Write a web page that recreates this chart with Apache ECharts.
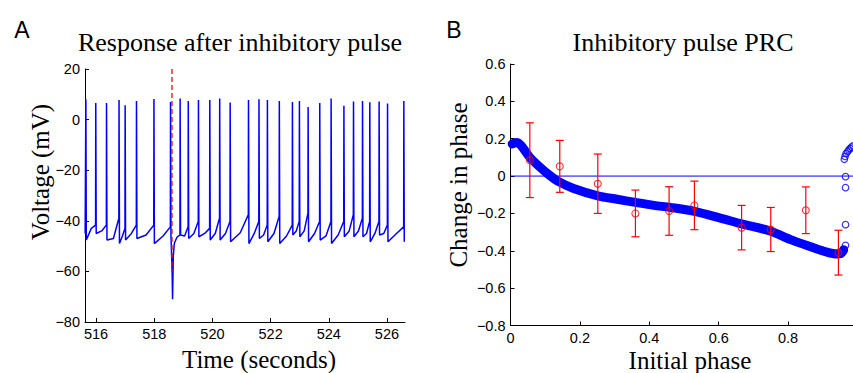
<!DOCTYPE html>
<html><head><meta charset="utf-8">
<script src="https://cdn.jsdelivr.net/npm/echarts@6/dist/echarts.min.js"></script>
<style>html,body{margin:0;padding:0;background:#fff}#c{width:853px;height:373px}</style>
</head><body><div id="c"></div>
<script>
// ---------- Panel A: voltage trace ----------
const spikeTimes = [515.65, 515.99, 516.36, 516.79, 517.00, 517.39, 517.99, 518.56, 518.89, 519.17,
  519.52, 519.91, 520.25, 520.61, 521.24, 521.60, 521.89, 522.30, 522.75, 522.99,
  523.29, 523.69, 524.08, 524.52, 524.85, 525.16, 525.41, 525.73, 526.02, 526.58];
const spikePeaks = [8.0, 6.6, 6.6, 7.7, 5.7, 7.4, 8.1, 7.0, 8.3, 7.4,
  7.7, 7.7, 8.3, 6.8, 7.7, 8.0, 7.7, 7.4, 7.0, 7.4,
  5.0, 6.6, 8.3, 5.5, 7.2, 7.4, 6.9, 7.2, 6.4, 7.4];
const preSpikeV = [-45.0, -41.7, -41.7, -39.0, -43.0, -41.7, -41.7, -42.4, -45.6, -42.4,
  -40.3, -43.0, -39.0, -40.3, -37.6, -40.3, -41.7, -38.3, -41.7, -40.3,
  -37.0, -40.3, -40.3, -40.3, -37.6, -39.0, -40.3, -40.3, -41.7, -42.4];
const troughV = [-47.6, -45.0, -47.6, -49.0, -47.6, -47.0, -49.0, -46.0, -45.6, -47.0,
  -46.3, -47.6, -47.6, -48.3, -49.0, -47.0, -48.3, -49.0, -45.6, -46.3,
  -48.3, -47.6, -49.0, -46.3, -46.3, -46.3, -48.3, -45.6, -48.3, -48.3];
const midV = [-43.0, -44.0, -47.0, -46.0, -45.0, -45.6, -46.0, -46.5, -46.0, -45.0,
  -45.0, -45.0, -45.0, -44.7, -45.0, -45.6, -45.0, -46.0, -44.0, -44.0,
  -45.0, -46.0, -45.6, -44.0, -44.0, -45.0, -45.0, -45.0, -45.0];
const pulseTime = 518.61;
const pulseDip = [[518.615, -60], [518.63, -71], [518.655, -54], [518.69, -49], [518.78, -46.5]];
const traceStart = [515.625, -45.0];
const pulseLine = [20, -60];
const xTicksA = [516, 518, 520, 522, 524, 526];

// ---------- Panel B: phase response curve ----------
const prcPhase = [0.005, 0.017, 0.03, 0.0557, 0.0836, 0.112, 0.139, 0.18, 0.2516, 0.307, 0.36, 0.413,
  0.461, 0.53, 0.605, 0.666, 0.75, 0.807, 0.865, 0.912, 0.941, 0.952, 0.96];
const prcValue = [0.172, 0.18, 0.165, 0.10, 0.05, 0.005, -0.03, -0.065, -0.106, -0.124, -0.141, -0.157,
  -0.168, -0.189, -0.225, -0.256, -0.295, -0.34, -0.378, -0.407, -0.417, -0.415, -0.395];
const extraPhase = [0.9655, 0.9655, 0.9655, 0.9655, 0.962, 0.964, 0.967, 0.971, 0.975, 0.979, 0.983, 0.987];
const extraValue = [-0.003, -0.062, -0.26, -0.371, 0.09, 0.105, 0.12, 0.13, 0.14, 0.148, 0.155, 0.162];
const expPhase = [0.0557, 0.142, 0.2516, 0.36, 0.457, 0.53, 0.666, 0.75, 0.851, 0.945];
const expMean = [0.085, 0.052, -0.041, -0.200, -0.187, -0.157, -0.276, -0.286, -0.183, -0.410];
const expErr = [0.200, 0.139, 0.159, 0.125, 0.130, 0.130, 0.119, 0.118, 0.125, 0.120];
const xTicksB = [0, 0.2, 0.4, 0.6, 0.8];

// ---------- build tables ----------
const trace = [traceStart];
for (let i = 0; i < spikeTimes.length; i++) {
  const t = spikeTimes[i];
  trace.push([t - 0.006, preSpikeV[i]]);
  trace.push([t, spikePeaks[i]]);
  trace.push([t + 0.015, troughV[i]]);
  if (i === 7) { pulseDip.forEach(p => trace.push(p)); }
  else if (i < spikeTimes.length - 1) {
    trace.push([t + 0.55 * (spikeTimes[i + 1] - t), midV[i]]);
  }
}
const prc = prcPhase.map((p, i) => [p, prcValue[i]]);
const extra = extraPhase.map((p, i) => [p, extraValue[i]]);
const expPts = expPhase.map((p, i) => [p, expMean[i]]);
const expBars = expPhase.map((p, i) => [p, expMean[i] - expErr[i], expMean[i] + expErr[i]]);

const minus = v => String(v).replace('-', '\u2212');
const tickFont = { color: '#000', fontSize: 14.5, fontFamily: 'Liberation Sans' };
const axisLine = { show: true, onZero: false, lineStyle: { color: '#000', width: 1 } };

const chart = echarts.init(document.getElementById('c'), null, { renderer: 'svg' });
chart.setOption({
  animation: false,
  grid: [
    { left: 85, top: 69, width: 320, height: 253 },
    { left: 510.5, top: 64, width: 342.5, height: 261.5 }
  ],
  xAxis: [
    { gridIndex: 0, type: 'value', min: 515.62, max: 526.62,
      axisLine: axisLine, splitLine: { show: false },
      axisTick: { inside: true, length: 4, customValues: xTicksA, lineStyle: { color: '#000' } },
      axisLabel: Object.assign({ customValues: xTicksA, margin: 4 }, tickFont) },
    { gridIndex: 1, type: 'value', min: 0, max: 0.987,
      axisLine: axisLine, splitLine: { show: false },
      axisTick: { inside: true, length: 4, customValues: xTicksB, lineStyle: { color: '#000' } },
      axisLabel: Object.assign({ customValues: xTicksB, margin: 5, formatter: v => String(v) }, tickFont) }
  ],
  yAxis: [
    { gridIndex: 0, type: 'value', min: -80, max: 20, interval: 20,
      axisLine: axisLine, splitLine: { show: false },
      axisTick: { show: true, inside: true, length: 4, lineStyle: { color: '#000' } },
      axisLabel: Object.assign({ margin: 5, formatter: minus }, tickFont) },
    { gridIndex: 1, type: 'value', min: -0.8, max: 0.6, interval: 0.2,
      axisLine: axisLine, splitLine: { show: false },
      axisTick: { show: true, inside: true, length: 4, lineStyle: { color: '#000' } },
      axisLabel: Object.assign({ margin: 5, formatter: v => minus(Math.round(v * 10) / 10) }, tickFont) }
  ],
  series: [
    { type: 'line', xAxisIndex: 0, yAxisIndex: 0, data: trace, showSymbol: false,
      lineStyle: { color: '#0000ff', width: 1.5 }, z: 3 },
    { type: 'line', xAxisIndex: 0, yAxisIndex: 0, data: pulseLine.map(v => [pulseTime, v]), showSymbol: false,
      lineStyle: { color: '#ff0000', width: 1.3, type: [5, 3] }, z: 4 },
    { type: 'line', xAxisIndex: 1, yAxisIndex: 1, data: [[0, 0], [0.987, 0]], showSymbol: false,
      lineStyle: { color: '#0000ff', width: 1 }, z: 2 },
    { type: 'line', xAxisIndex: 1, yAxisIndex: 1, data: prc, showSymbol: false, smooth: 0.3,
      lineStyle: { color: '#0000ff', width: 9, cap: 'round', join: 'round' }, z: 3 },
    { type: 'scatter', xAxisIndex: 1, yAxisIndex: 1, data: extra, symbol: 'circle', symbolSize: 6.5,
      itemStyle: { color: 'rgba(0,0,0,0)', borderColor: '#0000ff', borderWidth: 1.2 }, z: 3 },
    { type: 'custom', xAxisIndex: 1, yAxisIndex: 1, data: expBars, z: 4,
      renderItem: function (params, api) {
        const x = api.value(0);
        const lo = api.coord([x, api.value(1)]);
        const hi = api.coord([x, api.value(2)]);
        const w = 4;
        const st = { stroke: '#ff0000', lineWidth: 1.2, fill: null };
        return { type: 'group', children: [
          { type: 'line', shape: { x1: lo[0], y1: lo[1], x2: hi[0], y2: hi[1] }, style: st },
          { type: 'line', shape: { x1: lo[0] - w, y1: lo[1], x2: lo[0] + w, y2: lo[1] }, style: st },
          { type: 'line', shape: { x1: hi[0] - w, y1: hi[1], x2: hi[0] + w, y2: hi[1] }, style: st }
        ] };
      } },
    { type: 'scatter', xAxisIndex: 1, yAxisIndex: 1, data: expPts, symbol: 'circle', symbolSize: 7,
      itemStyle: { color: 'rgba(0,0,0,0)', borderColor: '#ff0000', borderWidth: 1.1 }, z: 5 }
  ],
  graphic: [
    { type: 'text', x: 22, y: 30, style: { text: 'A', font: '23px "Liberation Sans"', fill: '#000', align: 'center', verticalAlign: 'middle' } },
    { type: 'text', x: 454, y: 30, style: { text: 'B', font: '23px "Liberation Sans"', fill: '#000', align: 'center', verticalAlign: 'middle' } },
    { type: 'text', x: 240, y: 42, style: { text: 'Response after inhibitory pulse', font: '26px "Liberation Serif"', fill: '#000', align: 'center', verticalAlign: 'middle' } },
    { type: 'text', x: 683, y: 42, style: { text: 'Inhibitory pulse PRC', font: '26px "Liberation Serif"', fill: '#000', align: 'center', verticalAlign: 'middle' } },
    { type: 'text', x: 259, y: 359, style: { text: 'Time (seconds)', font: '25px "Liberation Serif"', fill: '#000', align: 'center', verticalAlign: 'middle' } },
    { type: 'text', x: 690, y: 360, style: { text: 'Initial phase', font: '25px "Liberation Serif"', fill: '#000', align: 'center', verticalAlign: 'middle' } },
    { type: 'text', x: 40, y: 172, rotation: Math.PI / 2, style: { text: 'Voltage (mV)', font: '25px "Liberation Serif"', fill: '#000', align: 'center', verticalAlign: 'middle' } },
    { type: 'text', x: 458, y: 185, rotation: Math.PI / 2, style: { text: 'Change in phase', font: '25px "Liberation Serif"', fill: '#000', align: 'center', verticalAlign: 'middle' } }
  ]
});
</script></body></html>
